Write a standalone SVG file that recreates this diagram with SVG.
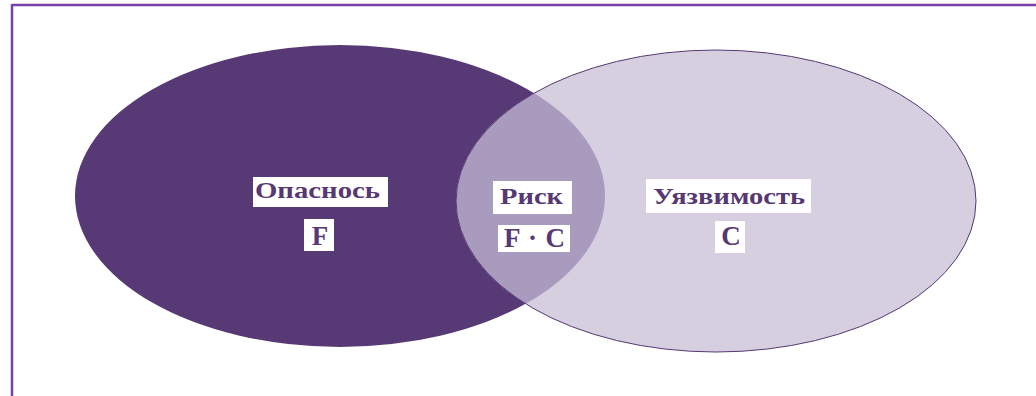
<svg xmlns="http://www.w3.org/2000/svg" width="1036" height="396" viewBox="0 0 1036 396">
<style>
.lbl{font-family:"Liberation Serif","DejaVu Serif",serif;font-weight:bold;font-size:23px;fill:#563873}
.big{font-size:27px}
.box{fill:#ffffff}
</style>
<defs>
<clipPath id="clipL"><ellipse cx="340" cy="196" rx="265" ry="151"/></clipPath>
</defs>
<rect width="1036" height="396" fill="#ffffff"/>
<g id="frame">
<line x1="12" y1="5" x2="1036" y2="5" stroke="#7a3fa8" stroke-width="2.5"/>
<line x1="12" y1="4" x2="12" y2="396" stroke="#7a3fa8" stroke-width="2.5"/>
</g>
<g id="hazard">
<ellipse cx="340" cy="196" rx="265" ry="151" fill="#573a75"/>
</g>
<g id="vulnerability">
<ellipse cx="716" cy="201" rx="260" ry="151" fill="#d6cfe0"/>
</g>
<g id="risk">
<ellipse cx="716" cy="201" rx="260" ry="151" fill="#a99bbe" clip-path="url(#clipL)"/>
<ellipse cx="716" cy="201" rx="260" ry="151" fill="none" stroke="#563873" stroke-width="1"/>
</g>
<g id="labels">
<rect class="box" x="253" y="177" width="135" height="30"/>
<text class="lbl" x="255" y="198" textLength="125" lengthAdjust="spacingAndGlyphs">Опаснось</text>
<rect class="box" x="304" y="219" width="30" height="32"/>
<text class="lbl big" x="320" y="245" text-anchor="middle">F</text>
<rect class="box" x="493" y="181" width="79" height="33"/>
<text class="lbl" x="500" y="204" textLength="63" lengthAdjust="spacingAndGlyphs">Риск</text>
<rect class="box" x="498" y="225" width="72" height="27"/>
<text class="lbl big" x="504" y="247" textLength="61" lengthAdjust="spacing">F · C</text>
<rect class="box" x="646" y="179" width="165" height="34"/>
<text class="lbl" x="653" y="204" textLength="152" lengthAdjust="spacingAndGlyphs">Уязвимость</text>
<rect class="box" x="715" y="221" width="30" height="32"/>
<text class="lbl big" x="731" y="245" text-anchor="middle">C</text>
</g>
</svg>
